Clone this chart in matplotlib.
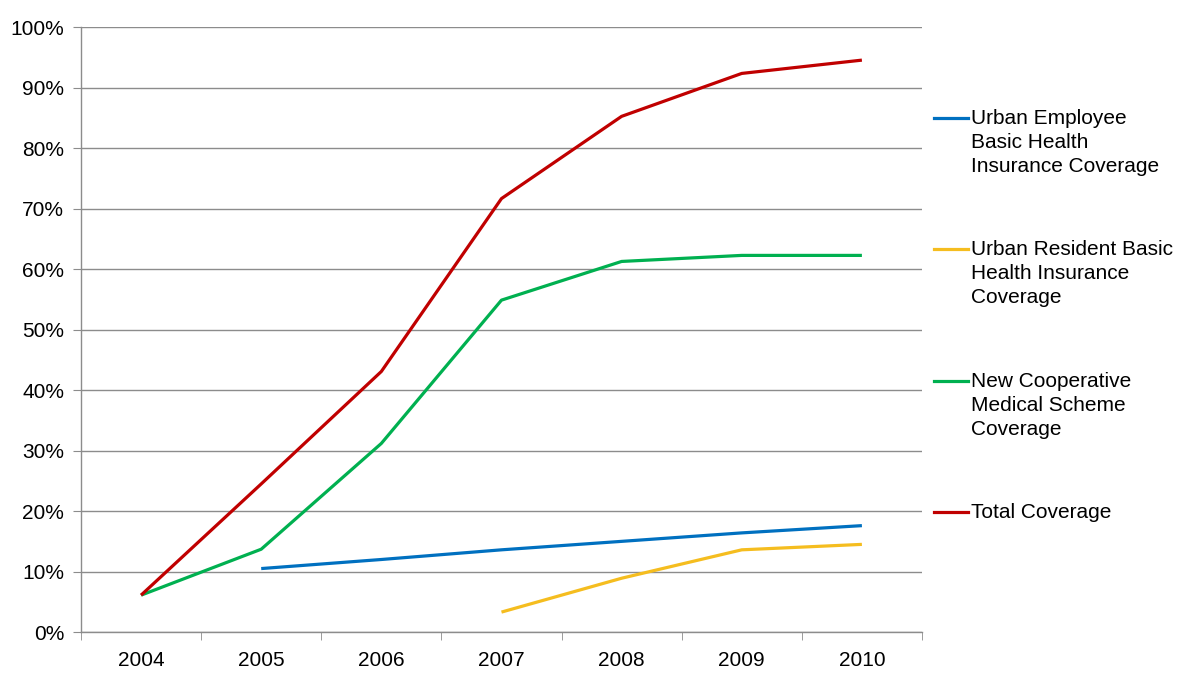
import matplotlib
matplotlib.use("Agg")
import matplotlib.pyplot as plt
from matplotlib.lines import Line2D
from matplotlib.ticker import PercentFormatter
import numpy as np

plt.rcParams['font.family'] = ['Liberation Sans', 'DejaVu Sans']

# Data (percent coverage)
years = ["2004", "2005", "2006", "2007", "2008", "2009", "2010"]
urban_employee = [None, 10.5, 12.0, 13.6, 15.0, 16.4, 17.6]
urban_resident = [None, None, None, 3.3, 8.9, 13.6, 14.5]
new_cooperative = [6.1, 13.7, 31.2, 54.9, 61.3, 62.3, 62.3]
total_coverage = [6.1, 24.5, 43.1, 71.7, 85.3, 92.4, 94.6]

series_labels = [
    "Urban Employee\nBasic Health\nInsurance Coverage",
    "Urban Resident Basic\nHealth Insurance\nCoverage",
    "New Cooperative\nMedical Scheme\nCoverage",
    "Total Coverage",
]
series_colors = ["#0070C0", "#F5BD1F", "#00B050", "#C00000"]
all_series = [urban_employee, urban_resident, new_cooperative, total_coverage]

fig = plt.figure(figsize=(12, 6.87), dpi=100)
ax = fig.add_axes([0.0675, 0.080, 0.7008, 0.880])

x = np.arange(len(years))
for values, color in zip(all_series, series_colors):
    y = np.array([np.nan if v is None else v for v in values], dtype=float)
    ax.plot(x, y, color=color, linewidth=2.3, solid_capstyle='butt', zorder=3)

ax.set_xlim(-0.5, len(years) - 0.5)
ax.set_ylim(0, 100)
ax.set_yticks(np.arange(0, 101, 10))
ax.yaxis.set_major_formatter(PercentFormatter(decimals=0))
ax.set_xticks(x)
ax.set_xticklabels(years)
ax.set_xticks(np.arange(-0.5, len(years), 1), minor=True)

ax.grid(axis='y', color='#8C8C8C', linewidth=1, zorder=0)
for side in ['top', 'right']:
    ax.spines[side].set_visible(False)
for side in ['left', 'bottom']:
    ax.spines[side].set_color('#8C8C8C')
    ax.spines[side].set_linewidth(1)

ax.tick_params(axis='x', which='major', length=0, pad=14, labelsize=15)
ax.tick_params(axis='x', which='minor', length=6, color='#8C8C8C', direction='out')
ax.tick_params(axis='y', length=6, color='#8C8C8C', pad=6, labelsize=15)

# Legend drawn at the right, line aligned to the first line of each label
legend_y = [118, 249, 381, 512]
for label, color, py in zip(series_labels, series_colors, legend_y):
    fy = 1 - py / 687
    fig.add_artist(Line2D([934 / 1200, 968 / 1200], [fy, fy], color=color,
                          linewidth=2.3, transform=fig.transFigure))
    fig.text(971 / 1200, 1 - (py - 9) / 687, label, fontsize=15,
             va='top', ha='left', linespacing=1.33,
             transform=fig.transFigure)

fig.savefig("out.png", dpi=100)
